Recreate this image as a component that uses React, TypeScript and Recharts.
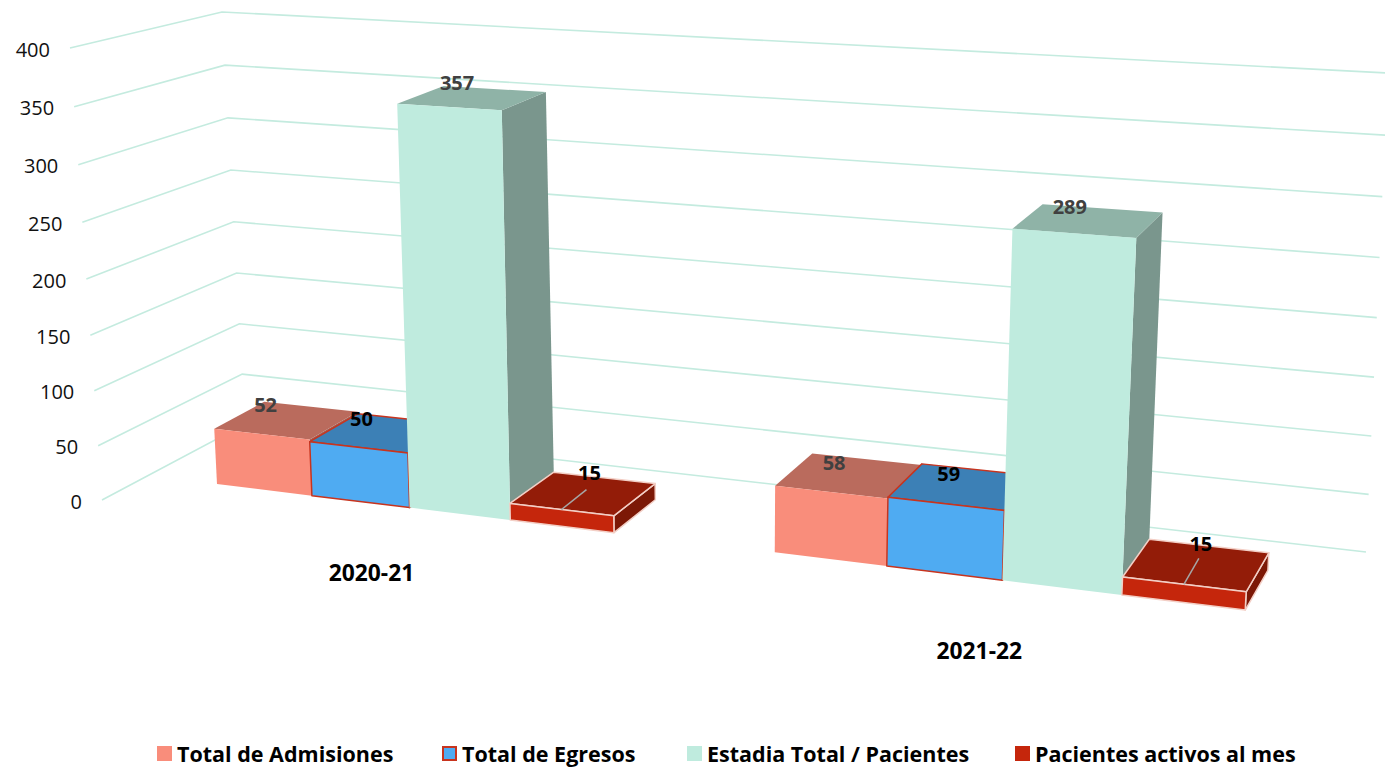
import { BarChart, Bar, XAxis, YAxis, CartesianGrid, LabelList, Legend } from 'recharts';

const categories = ['2020-21', '2021-22'];
const admisiones = [52, 58];
const egresos = [50, 59];
const estadia = [357, 289];
const activos = [15, 15];
const valueTicks = [0, 50, 100, 150, 200, 250, 300, 350, 400];

const chartData = categories.map((name, i) => ({
  name,
  admisiones: admisiones[i],
  egresos: egresos[i],
  estadia: estadia[i],
  activos: activos[i],
}));

const W = 1385;
const H = 767;
const AXIS_SIZE = 1; // axes with zero size are not drawn at all
const PLOT_W = W - AXIS_SIZE;
const PLOT_H = H - AXIS_SIZE;
const CATEGORY_GAP = 0.136; // share of each band left empty on either side
const FONT = '"Open Sans", sans-serif';

type Pt = [number, number];

// projective map of the unit square onto a quad: (0,0) (1,0) (1,1) (0,1)
function quadMap(p0: Pt, p1: Pt, p2: Pt, p3: Pt) {
  const dx1 = p1[0] - p2[0];
  const dx2 = p3[0] - p2[0];
  const dx3 = p0[0] - p1[0] + p2[0] - p3[0];
  const dy1 = p1[1] - p2[1];
  const dy2 = p3[1] - p2[1];
  const dy3 = p0[1] - p1[1] + p2[1] - p3[1];
  const den = dx1 * dy2 - dx2 * dy1;
  const g = (dx3 * dy2 - dx2 * dy3) / den;
  const h = (dx1 * dy3 - dx3 * dy1) / den;
  const a = p1[0] - p0[0] + g * p1[0];
  const b = p3[0] - p0[0] + h * p3[0];
  const d = p1[1] - p0[1] + g * p1[1];
  const e = p3[1] - p0[1] + h * p3[1];
  return (u: number, v: number): Pt => {
    const w = g * u + h * v + 1;
    return [(a * u + b * v + p0[0]) / w, (d * u + e * v + p0[1]) / w];
  };
}

const frontPlane = quadMap([217, 484], [1245, 610], [1272, 101], [195, 42]);
const backWall = quadMap([245, 424], [1366, 552], [1388, 73], [222, 12]);
const sideWall = quadMap([102, 500], [245, 424], [222, 12], [70, 48]);

const VANISH: Pt = [1850, -450];
const bandGap = (PLOT_W / 2) * CATEGORY_GAP;
const toU = (x: number) => (x - AXIS_SIZE - bandGap) / (PLOT_W - 2 * bandGap);
const toV = (y: number) => 1 - y / PLOT_H;

function extrude(p: Pt, u: number): Pt {
  const t = 0.0305 + 0.007 * u;
  return [p[0] + t * (VANISH[0] - p[0]), p[1] + t * (VANISH[1] - p[1])];
}

const poly = (pts: Pt[]) => pts.map((p) => p.join(',')).join(' ');

interface BarLook {
  front: string;
  top: string;
  side: string;
  stroke?: string;
  strokeWidth?: number;
}

const looks: Record<string, BarLook> = {
  admisiones: { front: '#F98D7B', top: '#BA6B5D', side: '#A55E52' },
  egresos: { front: '#4FABF2', top: '#3C80B6', side: '#336C9A', stroke: '#C8341E', strokeWidth: 1.5 },
  estadia: { front: '#BFEBDE', top: '#8FB3A7', side: '#7A968D' },
  activos: { front: '#C5260C', top: '#931C08', side: '#7C1806', stroke: '#F3CFC6', strokeWidth: 1.5 },
};

function Box3D(props: any) {
  const { x, y, width, height, look } = props;
  const uL = toU(x);
  const uR = toU(x + width);
  const vT = toV(y);
  const vB = toV(y + height);
  const tl = frontPlane(uL, vT);
  const tr = frontPlane(uR, vT);
  const br = frontPlane(uR, vB);
  const bl = frontPlane(uL, vB);
  const tlBack = extrude(tl, uL);
  const trBack = extrude(tr, uR);
  const brBack = extrude(br, uR);
  const edge = { stroke: look.stroke ?? 'none', strokeWidth: look.strokeWidth ?? 0, strokeLinejoin: 'round' as const };
  return (
    <g>
      <polygon points={poly([tr, br, brBack, trBack])} fill={look.side} {...edge} />
      <polygon points={poly([tl, tr, trBack, tlBack])} fill={look.top} {...edge} />
      <polygon points={poly([tl, tr, br, bl])} fill={look.front} {...edge} />
    </g>
  );
}

// label offset from the middle of the bar's top front edge, per category
const labelOffsets: Record<string, Pt[]> = {
  admisiones: [[4, -30], [3, -30]],
  egresos: [[3, -29], [3, -30]],
  estadia: [[8, -25], [-4, -27]],
  activos: [[28, -37], [17, -41]],
};
const leaderEnds: Pt[] = [[25, -20], [15, -26]];

function BarValue(props: any) {
  const { value, index, seriesKey, color } = props;
  const box = props.viewBox ?? props;
  const u = toU(box.x + box.width / 2);
  const v = toV(box.y);
  const [cx, cy] = frontPlane(u, v);
  const [dx, dy] = labelOffsets[seriesKey][index];
  return (
    <g>
      {seriesKey === 'activos' && (
        <line
          x1={cx}
          y1={cy}
          x2={cx + leaderEnds[index][0]}
          y2={cy + leaderEnds[index][1]}
          stroke="#A6A6A6"
          strokeWidth={1.5}
        />
      )}
      <text
        x={cx + dx}
        y={cy + dy}
        textAnchor="middle"
        dominantBaseline="central"
        fontFamily={FONT}
        fontSize={20}
        fontWeight={700}
        fill={color}
      >
        {value}
      </text>
    </g>
  );
}

function GridLine(props: any) {
  const v = toV(props.y1);
  const pts = [sideWall(0, v), backWall(0, v), backWall(1, v)];
  return <polyline key={props.y1} points={poly(pts)} fill="none" stroke="#C4EBDF" strokeWidth={1.6} />;
}

function ValueTick(props: any) {
  const v = toV(props.y);
  const [x, y] = sideWall(0, v);
  return (
    <text
      x={x - 20}
      y={y + 1}
      textAnchor="end"
      dominantBaseline="central"
      fontFamily={FONT}
      fontSize={20}
      fill="#111111"
    >
      {props.payload.value}
    </text>
  );
}

const categoryOffsets: Pt[] = [[-38, 65], [-23, 70]];

function CategoryTick(props: any) {
  const [x, y] = frontPlane(toU(props.x), 0);
  const off = categoryOffsets[props.index];
  return (
    <text
      x={x + off[0]}
      y={y + off[1]}
      textAnchor="middle"
      dominantBaseline="central"
      fontFamily={FONT}
      fontSize={22.8}
      fontWeight={700}
      fill="#000000"
    >
      {props.payload.value}
    </text>
  );
}

const legendLefts = [157, 442, 687, 1015];

function LegendRow({ payload }: any) {
  return (
    <div style={{ position: 'relative', height: 30, width: W }}>
      {(payload ?? []).map((item: any, i: number) => {
        const look = looks[item.dataKey];
        return (
          <div key={item.value} style={{ position: 'absolute', left: legendLefts[i], top: 0, display: 'flex', alignItems: 'center', height: 30 }}>
            <span
              style={{
                display: 'inline-block',
                boxSizing: 'border-box',
                width: 15,
                height: 15,
                background: look.front,
                border: i === 1 ? '2px solid #C8341E' : 'none',
                marginRight: 5,
              }}
            />
            <span style={{ fontFamily: FONT, fontSize: 21.5, fontWeight: 700, color: '#000', whiteSpace: 'nowrap' }}>
              {item.value}
            </span>
          </div>
        );
      })}
    </div>
  );
}

const seriesList = [
  { key: 'admisiones', name: 'Total de Admisiones', labelColor: '#404040' },
  { key: 'egresos', name: 'Total de Egresos', labelColor: '#000000' },
  { key: 'estadia', name: 'Estadia Total / Pacientes', labelColor: '#404040' },
  { key: 'activos', name: 'Pacientes activos al mes', labelColor: '#000000' },
];

export default function App() {
  return (
    <div style={{ position: 'absolute', left: 0, top: 0, width: W, height: H, background: '#fff' }}>
      <BarChart
        width={W}
        height={H}
        data={chartData}
        margin={{ top: 0, right: 0, bottom: 0, left: 0 }}
        barCategoryGap={`${CATEGORY_GAP * 100}%`}
        barGap={0}
      >
        <CartesianGrid vertical={false} horizontal={(p: any) => <GridLine {...p} />} />
        <XAxis
          dataKey="name"
          height={AXIS_SIZE}
          axisLine={false}
          tickLine={false}
          interval={0}
          tick={(p: any) => <CategoryTick {...p} />}
        />
        <YAxis
          width={AXIS_SIZE}
          domain={[0, 400]}
          ticks={valueTicks}
          axisLine={false}
          tickLine={false}
          interval={0}
          tick={(p: any) => <ValueTick {...p} />}
        />
        <Legend
          verticalAlign="middle"
          itemSorter={null}
          content={<LegendRow />}
          wrapperStyle={{ position: 'absolute', left: 0, top: 738, width: W, height: 30 }}
        />
        {seriesList.map((s) => (
          <Bar
            key={s.key}
            dataKey={s.key}
            name={s.name}
            fill={looks[s.key].front}
            isAnimationActive={false}
            shape={(p: any) => <Box3D {...p} look={looks[s.key]} />}
          >
            <LabelList
              dataKey={s.key}
              content={(p: any) => <BarValue {...p} seriesKey={s.key} color={s.labelColor} />}
            />
          </Bar>
        ))}
      </BarChart>
    </div>
  );
}
